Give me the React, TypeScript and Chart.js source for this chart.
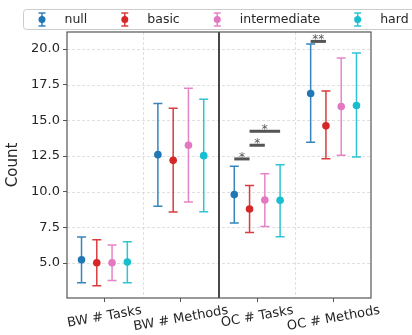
import React, { useEffect, useRef } from 'react';
import { Chart, registerables } from 'chart.js';

Chart.register(...registerables);

const categories = ['BW # Tasks', 'BW # Methods', 'OC # Tasks', 'OC # Methods'];
const seriesNames = ['null', 'basic', 'intermediate', 'hard'];
const seriesColors = ['#1f77b4', '#d62728', '#e377c2', '#17becf'];
const seriesOffsets = [-0.3, -0.1, 0.1, 0.3];

const nullMean = [5.23, 12.6, 9.8, 16.89];
const nullLow = [3.62, 8.98, 7.81, 13.47];
const nullHigh = [6.83, 16.19, 11.78, 20.35];
const basicMean = [5.02, 12.2, 8.79, 14.62];
const basicLow = [3.41, 8.58, 7.15, 12.32];
const basicHigh = [6.64, 15.86, 10.43, 17.07];
const intermediateMean = [5.02, 13.26, 9.42, 15.98];
const intermediateLow = [3.78, 9.28, 7.57, 12.56];
const intermediateHigh = [6.26, 17.26, 11.27, 19.37];
const hardMean = [5.07, 12.53, 9.4, 16.05];
const hardLow = [3.62, 8.6, 6.85, 12.44];
const hardHigh = [6.5, 16.49, 11.9, 19.72];

const yTicks = [5, 7.5, 10, 12.5, 15, 17.5, 20];
const yMin = 2.55;
const yMax = 21.2;
const xMin = -0.49;
const xMax = 3.49;
const xGridLines = [0.5, 2.5];
const xDivider = 1.5;

const sigCategory = [2, 2, 2, 3];
const sigFrom = [0, 1, 1, 0];
const sigTo = [1, 2, 3, 1];
const sigLevel = [12.3, 13.26, 14.24, 20.54];
const sigLabel = ['*', '*', '*', '**'];

const means = [nullMean, basicMean, intermediateMean, hardMean];
const lows = [nullLow, basicLow, intermediateLow, hardLow];
const highs = [nullHigh, basicHigh, intermediateHigh, hardHigh];

const FONT = '"DejaVu Sans", sans-serif';
const TEXT = '#262626';
const FS = 12.5;
const TFS = 13;

function withAlpha(hex: string, a: number) {
  const r = parseInt(hex.slice(1, 3), 16);
  const g = parseInt(hex.slice(3, 5), 16);
  const b = parseInt(hex.slice(5, 7), 16);
  return `rgba(${r},${g},${b},${a})`;
}

function drawErrGlyph(ctx: CanvasRenderingContext2D, cx: number, cy: number, color: string, half: number, cap: number, r: number) {
  ctx.save();
  ctx.strokeStyle = withAlpha(color, 0.9);
  ctx.lineWidth = 1.5;
  ctx.beginPath();
  ctx.moveTo(cx, cy - half);
  ctx.lineTo(cx, cy + half);
  ctx.moveTo(cx - cap, cy - half);
  ctx.lineTo(cx + cap, cy - half);
  ctx.moveTo(cx - cap, cy + half);
  ctx.lineTo(cx + cap, cy + half);
  ctx.stroke();
  ctx.fillStyle = color;
  ctx.beginPath();
  ctx.arc(cx, cy, r, 0, Math.PI * 2);
  ctx.fill();
  ctx.restore();
}

const customPlugin = {
  id: 'custom',
  beforeDatasetsDraw(chart: any) {
    const ctx: CanvasRenderingContext2D = chart.ctx;
    const xs = chart.scales.x;
    const ys = chart.scales.y;
    const { left, right, top, bottom } = chart.chartArea;
    ctx.save();
    ctx.strokeStyle = '#d8d8d8';
    ctx.lineWidth = 0.8;
    ctx.setLineDash([3, 2]);
    ctx.beginPath();
    yTicks.forEach((v) => {
      const py = Math.round(ys.getPixelForValue(v)) + 0.5;
      ctx.moveTo(left, py);
      ctx.lineTo(right, py);
    });
    xGridLines.forEach((v) => {
      const px = Math.round(xs.getPixelForValue(v)) + 0.5;
      ctx.moveTo(px, top);
      ctx.lineTo(px, bottom);
    });
    ctx.stroke();
    ctx.setLineDash([]);
    ctx.strokeStyle = '#333333';
    ctx.lineWidth = 1.8;
    ctx.beginPath();
    const dx = xs.getPixelForValue(xDivider);
    ctx.moveTo(dx, top);
    ctx.lineTo(dx, bottom);
    ctx.stroke();
    chart.data.datasets.forEach((ds: any, si: number) => {
      ctx.strokeStyle = withAlpha(seriesColors[si], 0.9);
      ctx.lineWidth = 1.5;
      ds.data.forEach((p: any) => {
        const px = xs.getPixelForValue(p.x);
        const pl = ys.getPixelForValue(p.lo);
        const ph = ys.getPixelForValue(p.hi);
        const cap = 4.5;
        ctx.beginPath();
        ctx.moveTo(px, pl);
        ctx.lineTo(px, ph);
        ctx.moveTo(px - cap, pl);
        ctx.lineTo(px + cap, pl);
        ctx.moveTo(px - cap, ph);
        ctx.lineTo(px + cap, ph);
        ctx.stroke();
      });
    });
    sigCategory.forEach((c, i) => {
      const x1 = xs.getPixelForValue(c + seriesOffsets[sigFrom[i]]);
      const x2 = xs.getPixelForValue(c + seriesOffsets[sigTo[i]]);
      const py = ys.getPixelForValue(sigLevel[i]);
      ctx.strokeStyle = '#555555';
      ctx.lineWidth = 3;
      ctx.beginPath();
      ctx.moveTo(x1, py);
      ctx.lineTo(x2, py);
      ctx.stroke();
      ctx.fillStyle = '#555555';
      ctx.font = `12px ${FONT}`;
      ctx.textAlign = 'center';
      ctx.textBaseline = 'alphabetic';
      ctx.fillText(sigLabel[i], (x1 + x2) / 2, py + 2);
    });
    ctx.restore();
  },
  afterDraw(chart: any) {
    const ctx: CanvasRenderingContext2D = chart.ctx;
    const xs = chart.scales.x;
    const { left, right, top, bottom } = chart.chartArea;
    ctx.save();
    ctx.strokeStyle = '#555555';
    ctx.lineWidth = 1.2;
    ctx.strokeRect(left, top, right - left, bottom - top);
    ctx.font = `${TFS}px ${FONT}`;
    ctx.fillStyle = TEXT;
    ctx.textAlign = 'center';
    ctx.textBaseline = 'middle';
    const a = (10 * Math.PI) / 180;
    const h = TFS * 1.15;
    categories.forEach((lab, i) => {
      const px = xs.getPixelForValue(i);
      const w = ctx.measureText(lab).width;
      const bh = w * Math.sin(a) + h * Math.cos(a);
      const cy = bottom + 5 + bh / 2;
      ctx.save();
      ctx.translate(px, cy);
      ctx.rotate(-a);
      ctx.fillText(lab, 0, 0);
      ctx.restore();
    });
    const lx = 23.5;
    const ly = 9.5;
    const lh = 20;
    ctx.fillStyle = 'rgba(255,255,255,0.85)';
    ctx.strokeStyle = '#cccccc';
    ctx.lineWidth = 1;
    ctx.beginPath();
    (ctx as any).roundRect(lx, ly, 420, lh, 3);
    ctx.fill();
    ctx.stroke();
    const em = FS;
    let cur = lx + 6;
    const cy = ly + lh / 2;
    ctx.font = `${FS}px ${FONT}`;
    ctx.textAlign = 'left';
    ctx.textBaseline = 'middle';
    seriesNames.forEach((name, i) => {
      const icx = cur + em;
      drawErrGlyph(ctx, icx, cy, seriesColors[i], 6.5, 3.5, 3.5);
      const tx = cur + 2 * em + 0.8 * em;
      ctx.fillStyle = TEXT;
      ctx.fillText(name, tx, cy + 0.5);
      cur = tx + ctx.measureText(name).width + 2 * em;
    });
    ctx.restore();
  },
};

export default function App() {
  const ref = useRef<HTMLCanvasElement>(null);
  useEffect(() => {
    if (!ref.current) return;
    const datasets = seriesNames.map((name, si) => ({
      label: name,
      data: means[si].map((m, ci) => ({ x: ci + seriesOffsets[si], y: m, lo: lows[si][ci], hi: highs[si][ci] })),
      backgroundColor: seriesColors[si],
      borderColor: seriesColors[si],
      borderWidth: 0,
      pointRadius: 3.8,
      pointHoverRadius: 3.8,
    }));
    const chart = new Chart(ref.current, {
      type: 'scatter',
      data: { datasets },
      options: {
        animation: false,
        responsive: false,
        events: [],
        layout: { padding: { left: 0, right: 41, top: 32, bottom: 0 } },
        plugins: { legend: { display: false }, tooltip: { enabled: false } },
        scales: {
          x: {
            type: 'linear',
            min: xMin,
            max: xMax,
            afterBuildTicks: (s: any) => {
              s.ticks = categories.map((_, i) => ({ value: i }));
            },
            afterFit: (s: any) => {
              s.height = 37;
            },
            ticks: { display: false },
            grid: { drawOnChartArea: false, drawTicks: true, tickLength: 4, color: '#555555', lineWidth: 1 },
            border: { display: false },
          },
          y: {
            type: 'linear',
            min: yMin,
            max: yMax,
            afterBuildTicks: (s: any) => {
              s.ticks = yTicks.map((v) => ({ value: v }));
            },
            afterFit: (s: any) => {
              s.width = 67;
            },
            ticks: {
              font: { family: FONT, size: TFS },
              color: TEXT,
              padding: 3,
              callback: (v: any) => Number(v).toFixed(1),
            },
            grid: { drawOnChartArea: false, drawTicks: true, tickLength: 4, color: '#555555', lineWidth: 1 },
            border: { display: false },
            title: {
              display: true,
              text: 'Count',
              font: { family: FONT, size: 15 },
              color: TEXT,
              padding: { top: 4, bottom: 0 },
            },
          },
        },
      },
      plugins: [customPlugin],
    } as any);
    return () => chart.destroy();
  }, []);
  return (
    <div style={{ position: 'absolute', left: 0, top: 0, width: 412, height: 335, background: '#fff' }}>
      <canvas ref={ref} width={412} height={335} style={{ display: 'block' }} />
    </div>
  );
}
